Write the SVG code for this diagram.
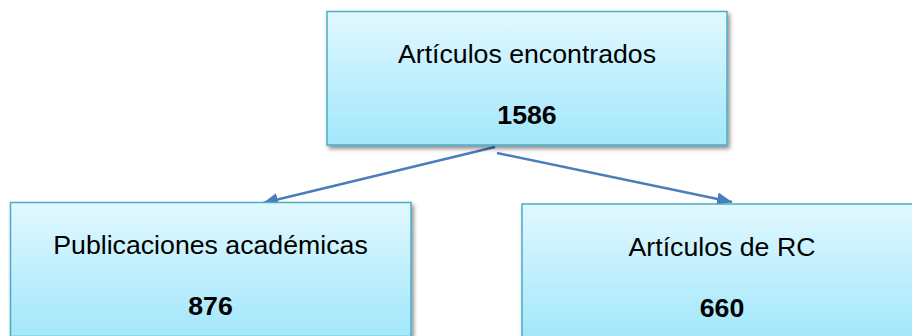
<svg xmlns="http://www.w3.org/2000/svg" width="912" height="336" viewBox="0 0 912 336">
<defs>
<linearGradient id="g" x1="0" y1="0" x2="0" y2="1">
<stop offset="0" stop-color="#e1f8ff"/>
<stop offset="1" stop-color="#a2e7fb"/>
</linearGradient>
<filter id="sh" x="-5%" y="-5%" width="115%" height="120%">
<feDropShadow dx="2" dy="3" stdDeviation="2" flood-color="#000" flood-opacity="0.45"/>
</filter>
<marker id="ah" markerUnits="userSpaceOnUse" markerWidth="16" markerHeight="14" refX="15" refY="6.5" orient="auto">
<path d="M0,0 L15,6.5 L0,13 z" fill="#4a7ebb"/>
</marker>
</defs>
<style>
.box{fill:url(#g);stroke:#4bacc6;stroke-width:1.5;filter:url(#sh)}
.t{font-family:"Liberation Sans",Arial,sans-serif;font-size:26.7px;fill:#000;text-anchor:middle}
.b{font-weight:bold}
.c{stroke:#4a7ebb;stroke-width:2.5;fill:none;marker-end:url(#ah)}
</style>
<g id="connectors">
<line class="c" x1="495" y1="147" x2="263" y2="203"/>
<line class="c" x1="497" y1="153" x2="732" y2="202"/>
</g>
<g id="n1">
<rect class="box" x="327" y="11.5" width="400" height="133.5"/>
<text class="t" x="527" y="63">Artículos encontrados</text>
<text class="t b" x="527" y="124">1586</text>
</g>
<g id="n2">
<rect class="box" x="10.5" y="202.5" width="400.5" height="134"/>
<text class="t" x="210.5" y="254">Publicaciones académicas</text>
<text class="t b" x="210.5" y="315">876</text>
</g>
<g id="n3">
<rect class="box" x="522" y="204" width="400" height="134"/>
<text class="t" x="722" y="256">Artículos de RC</text>
<text class="t b" x="722" y="317">660</text>
</g>
</svg>
